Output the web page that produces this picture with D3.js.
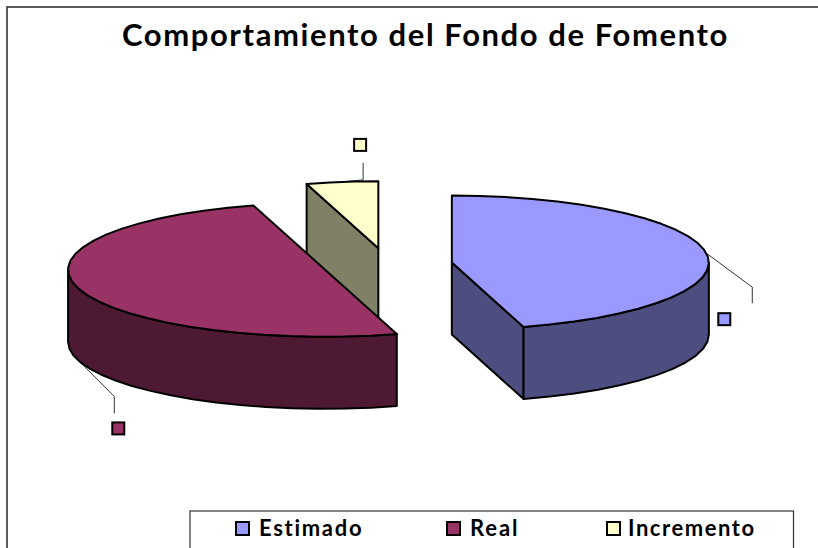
<!DOCTYPE html>
<html><head><meta charset="utf-8">
<script src="https://cdn.jsdelivr.net/npm/d3@7/dist/d3.min.js"></script>
<style>html,body{margin:0;padding:0;background:#fff}svg{display:block}</style>
</head><body><svg id="c" width="818" height="548"></svg>
<script>
const title = "Comportamiento del Fondo de Fomento";
const categories = ["Estimado", "Real", "Incremento"];
const values = [45.5, 50, 4.5];
const topColors = ["#9999FF", "#993366", "#FFFFCC"];
const sideColors = ["#4D4D80", "#4D1933", "#808066"];
const labelElbows = [[46, 34], [36, 36], [21, -2]];
const labelEnds = [16, 17, -17];
const labelBoxes = [[-34, 10], [-2, 9], [-9, -24]];
const legendX = [236, 447, 607];
const legendSpacing = [1.7, 1.9, 1.55];

const svg = d3.select("#c");
const cx = 387.5, cy = 265, rx = 257, ry = 67, depth = 72, explode = 65;
const step = Math.PI / 30;

svg.append("rect").attr("x", 7).attr("y", 7).attr("width", 900).attr("height", 600)
  .attr("fill", "#fff").attr("stroke", "#333").attr("stroke-width", 1.6);

svg.append("text").attr("x", 425.5).attr("y", 46).attr("text-anchor", "middle")
  .attr("font-family", "Lato").attr("font-weight", 700).attr("font-size", 31)
  .attr("letter-spacing", 1.6).attr("fill", "#000").text(title);

const arcs = d3.pie().sort(null).value(d => d)(values);
const mid = d => (d.startAngle + d.endAngle) / 2;
const centre = d => [cx + explode * Math.sin(mid(d)), cy - explode * (ry / rx) * Math.cos(mid(d))];
const rim = (c, a, dz = 0) => [c[0] + rx * Math.sin(a), c[1] - ry * Math.cos(a) + dz];
const line = d3.line();
const rimPts = (c, a0, a1, dz = 0) => {
  const n = Math.max(1, Math.round((a1 - a0) / step));
  return d3.range(n + 1).map(i => rim(c, a0 + (a1 - a0) * i / n, dz));
};
const low = p => [p[0], p[1] + depth];

const g = svg.append("g");
const face = (pts, fill) => g.append("path").attr("d", line(pts) + "Z")
  .attr("fill", fill).attr("stroke", "#000").attr("stroke-width", 2).attr("stroke-linejoin", "round");

function drawSlice(d, i) {
  const c = centre(d), a0 = d.startAngle, a1 = d.endAngle;
  // radial cut faces are visible when they look toward the viewer
  if (i === 2) { const r = rim(c, a0); face([c, r, low(r), low(c)], sideColors[i]); }
  if (i === 0) { const r = rim(c, a1); face([c, r, low(r), low(c)], sideColors[i]); }
  // outer wall: the part of the rim that faces the viewer
  const wa0 = Math.max(a0, Math.PI / 2), wa1 = Math.min(a1, 3 * Math.PI / 2);
  if (wa1 > wa0) {
    face(rimPts(c, wa0, wa1).concat(rimPts(c, wa0, wa1, depth).reverse()), sideColors[i]);
  }
  face([c].concat(rimPts(c, a0, a1)), topColors[i]);
}
[2, 1, 0].forEach(i => drawSlice(arcs[i], i));

arcs.forEach((d, i) => {
  const s = rim(centre(d), mid(d), i === 1 ? depth : 0);
  const e = [s[0] + labelElbows[i][0], s[1] + labelElbows[i][1]];
  const t = [e[0], e[1] + labelEnds[i]];
  svg.append("path").attr("d", line([s, e, t])).attr("fill", "none")
    .attr("stroke", "#000").attr("stroke-width", 0.8);
  svg.append("rect").attr("x", t[0] + labelBoxes[i][0]).attr("y", t[1] + labelBoxes[i][1])
    .attr("width", 12).attr("height", 12).attr("fill", topColors[i])
    .attr("stroke", "#000").attr("stroke-width", 2);
});

svg.append("rect").attr("x", 190).attr("y", 511).attr("width", 603.5).attr("height", 60)
  .attr("fill", "#fff").attr("stroke", "#333").attr("stroke-width", 1.2);

categories.forEach((name, i) => {
  svg.append("rect").attr("x", legendX[i]).attr("y", 522).attr("width", 13).attr("height", 13)
    .attr("fill", topColors[i]).attr("stroke", "#000").attr("stroke-width", 2);
  svg.append("text").attr("x", legendX[i] + (i === 2 ? 21 : 23)).attr("y", 536)
    .attr("font-family", "Lato").attr("font-weight", 700).attr("font-size", 22)
    .attr("letter-spacing", legendSpacing[i]).attr("fill", "#000").text(name);
});
</script></body></html>
